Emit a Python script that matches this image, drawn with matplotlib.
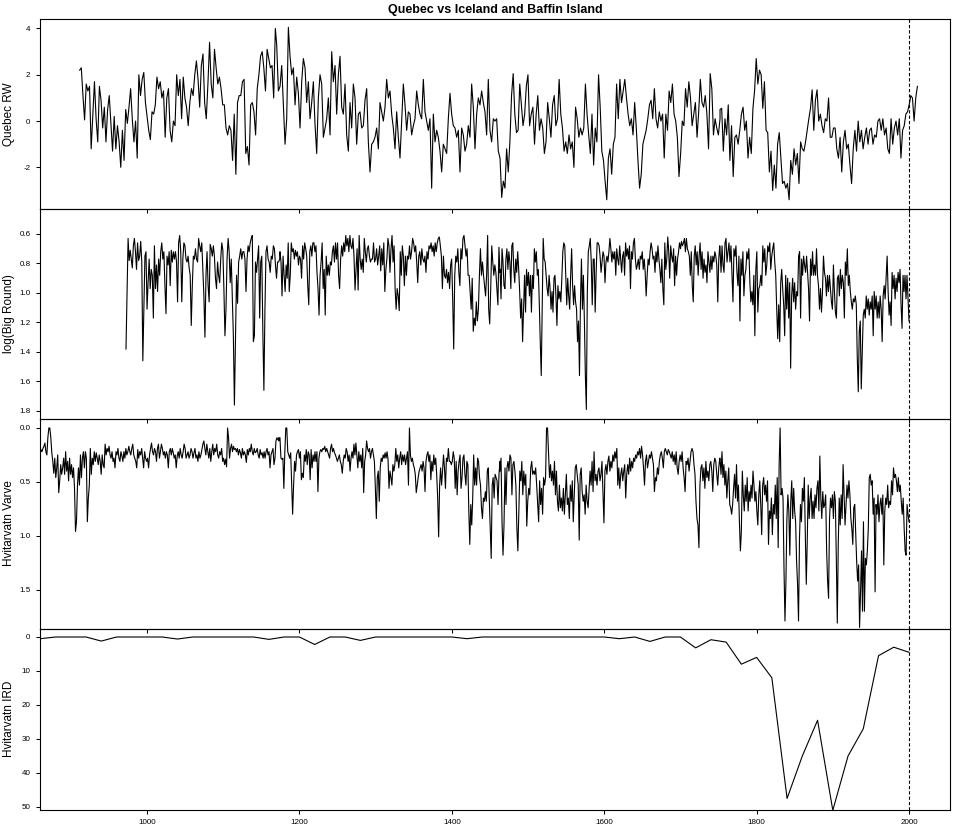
import numpy as np
import matplotlib
matplotlib.use("Agg")
import matplotlib.pyplot as plt

plt.rcParams['font.family'] = ['Liberation Sans', 'DejaVu Sans']

TITLE = "Quebec vs Iceland and Baffin Island"
YLABELS = ["Quebec RW", "log(Big Round)", "Hvitarvatn Varve", "Hvitarvatn IRD"]
XTICKS = [1000, 1200, 1400, 1600, 1800, 2000]

# ---------------- Quebec RW (segments: start year, end year, values) ----------------
quebec_911_1168 = [2.2, 2.3, 1.1, 0.05, 1.6, 1.3, 1.5, -1.2, 0.3, 1.7, 0.1, -0.9, 1.5, 0.9, -0.3, 0.6, -0.9, 0.5, 1.1, -0.1,
    -1.3, 0.2, -1.2, -0.2, -0.9, -2.0, -0.4, -1.7, 0.5, -0.1, 0.6, 1.4, 0.1, -0.9, 0.0, -1.6, 2.0, 1.1, 1.8, 2.1,
    0.8, 0.2, -0.4, -0.8, 0.4, 0.3, 0.7, 1.9, 1.4, 1.7, 1.0, 1.3, -0.7, 1.0, 1.4, -0.4, -0.9, 0.0, -0.2, 2.0,
    1.1, 1.8, 0.1, 1.9, 1.0, 0.6, -0.2, 0.8, 1.4, 1.1, 2.0, 2.6, 1.8, 0.6, 2.4, 2.9, 0.8, 0.1, 1.6, 3.4,
    1.6, 1.0, 3.1, 2.3, 1.6, 1.9, 1.4, 0.7, 0.7, -0.3, -0.6, -0.2, -0.4, -1.7, 0.3, -2.3, 0.8, 1.1, 1.1, 1.7,
    1.8, -1.4, -1.1, -1.9, 0.7, 0.8, 0.4, -0.6, 1.4, 2.0, 2.8, 3.0, 2.3, 1.3, 3.1, 2.7, 2.3, 2.4, 1.0, 4.0]
quebec_1170_1463 = [3.3, 1.3, 1.5, 2.4, 0.7, -1.0, 0.1, 4.05, 2.8, 2.0, 2.3, 0.7, 1.9, 1.2, -0.3, 1.7, 2.7, 2.3, 0.8, 1.7,
    0.1, 0.8, 1.7, -0.15, -1.4, 1.0, 2.0, 1.6, -0.7, -0.3, 0.1, 1.0, -0.6, 3.0, 1.7, 2.4, 0.3, 2.0, 2.8, 0.6,
    0.3, 1.6, -0.6, -1.3, 0.8, -0.3, 1.6, 1.0, -1.0, 0.3, 0.4, -0.3, -0.2, 0.9, 1.4, -0.9, -2.2, -1.0, -0.9, -0.7,
    -0.3, -1.2, 0.8, 0.4, 0.0, 0.6, 1.8, 1.0, 1.3, 0.3, -0.3, -1.2, 0.4, -0.7, -1.6, 0.0, 1.6, 0.7, -0.4, 0.4,
    0.3, -0.6, -0.2, 0.1, 1.3, 0.7, 0.3, 0.1, 1.8, 0.4, 0.0, -0.4, 0.1, -2.9, 0.3, -0.9, -0.4, -0.7, -1.3, -2.2,
    -1.0, -1.2, -1.4, 0.1, 1.2, 0.3, -0.2, -0.3, -0.7, -0.4, -2.2, -0.3, -0.6, -1.3, -1.0, -0.2, -0.7, 1.6, 0.6, -1.2,
    0.3, 1.0, 0.7, 1.3, 0.8, 0.4, -0.6, 1.8, -0.4, -0.9, 0.1, 0.0, 0.1, -1.3, -1.6]
quebec_1464_1752 = [-1.6, -3.3, -2.6, -2.9, -1.2, -2.2, -0.9, 1.1, 2.05, 0.3, -0.5, -0.4, 1.6, 0.7, -0.2, 0.3, 1.5, 2.0, -0.2, 0.3,
    0.6, -1.0, 0.3, 1.1, -0.4, 0.1, -0.3, -1.4, -0.9, 0.8, 0.1, -0.7, 0.7, 1.1, -0.2, 0.1, 1.8, 0.3, -0.3, -1.3,
    -0.9, -1.4, -0.6, -1.2, -0.9, -2.0, 0.6, 0.1, -0.7, -0.3, -0.6, -0.3, 1.6, 0.3, -0.6, -1.4, 0.3, -1.9, -0.3, -0.9,
    2.0, 0.6, -1.3, -1.7, -2.6, -3.4, -1.6, -1.2, -2.3, -1.0, -0.7, 1.6, 0.1, 1.8, 0.8, 1.3, 1.8, 1.0, 0.3, -0.2,
    0.1, -0.6, 0.8, -0.3, -1.7, -2.9, -2.3, -1.0, -0.7, -0.4, 0.1, 0.7, 0.9, 0.1, 1.4, 0.1, -0.3, 0.4, 0.0, 0.3,
    -1.6, 0.3, -0.4, 1.3, 0.8, 1.6, 0.3, 0.0, -0.7, -2.4, -1.4, 0.0, -0.2, 1.4, 0.6, 1.7, 1.0, -0.2, 0.3, 0.8,
    -0.7, 0.4, 1.8, 0.8, 0.6, 1.1, 0.3, -1.2, 2.05, 1.4, -0.6, 0.1, -0.3, -0.6, 0.1]
quebec_1753_2011 = [0.5, 0.55, -1.3, 0.1, -0.6, 0.7, -1.7, -0.2, -2.4, -0.7, -0.6, -1.0, -0.4, 0.3, 0.6, -0.4, 0.0, -1.6, -0.7, -1.4,
    0.55, 1.3, 2.7, 1.6, 2.2, 2.0, 0.55, 1.7, -0.4, -0.5, -2.2, -1.3, -3.0, -1.9, -2.9, -1.0, -0.5, -1.6, -2.7, -2.6,
    -2.9, -2.7, -3.4, -1.7, -2.3, -1.2, -1.9, -1.4, -2.7, -0.9, -1.2, -1.3, -0.9, -0.4, 0.1, 0.55, 1.35, -0.4, 0.9, 1.35,
    0.0, 0.3, -0.2, -0.5, 0.1, 0.0, 1.0, -0.7, -0.7, -0.3, -0.3, -1.2, -1.6, -0.7, -2.2, -0.9, -0.4, -1.2, -1.0, -1.9,
    -2.7, -1.2, -0.4, -1.3, 0.0, -0.9, -0.4, -1.2, -0.7, -0.3, -1.0, -0.4, -0.3, -1.0, -0.6, -0.7, 0.0, 0.1, -0.4, 0.1,
    -0.6, -0.3, -1.2, -1.4, 0.1, -1.0, -0.3, 0.0, -0.6, 0.1, -1.6, -0.4, -0.2, 0.3, 0.4, 0.7, 1.1, 1.0, 0.0, 1.0, 1.5]

# ---------------- log(Big Round) ----------------
biground_972_1174 = [1.38, 0.99, 0.63, 0.78, 0.71, 0.77, 0.83, 0.68, 0.63, 0.72, 0.84, 0.66, 0.78, 0.75, 0.65, 0.79, 1.46, 1.11, 0.75, 0.72,
    1.11, 0.93, 0.77, 0.97, 0.84, 0.88, 1.17, 0.68, 0.97, 0.81, 0.99, 0.77, 0.88, 0.72, 0.66, 0.77, 0.72, 0.95, 1.14, 0.75,
    0.81, 0.72, 0.95, 0.71, 0.79, 0.72, 0.77, 0.72, 0.79, 1.06, 0.66, 0.61, 0.72, 1.06, 0.77, 0.66, 0.68, 0.77, 0.79, 0.75,
    0.83, 0.88, 1.22, 0.95, 0.75, 0.77, 0.70, 0.77, 0.79, 0.63, 0.68, 0.72, 0.66, 0.84, 1.02, 1.30, 0.88, 0.72, 0.95, 1.06,
    0.67, 0.70, 0.75, 0.68, 0.75, 0.90, 0.97, 0.79, 0.88, 0.93, 0.77, 0.66, 0.71, 0.97, 1.29, 1.11, 0.77, 0.63, 0.72, 0.93,
    0.77, 1.02, 1.29, 1.76, 1.31, 0.88, 1.07, 0.79, 0.75, 0.70, 0.77, 0.72, 0.72, 0.77, 0.99, 0.77, 0.68, 0.72, 0.66, 0.63,
    0.61, 1.33, 1.29, 0.79, 0.86, 0.77, 0.68, 1.17, 0.79, 0.75, 1.26, 1.66, 1.11, 0.72, 0.68, 0.77, 0.79, 0.86, 0.75, 0.77,
    0.68, 0.70, 0.81, 0.90, 0.79, 0.79, 0.77]
biground_1175_1463 = [0.72, 0.79, 1.02, 0.75, 0.88, 0.99, 0.81, 0.90, 0.66, 0.99, 0.88, 0.66, 0.72, 0.70, 0.77, 0.71, 0.75, 0.72, 0.81, 0.75,
    0.77, 0.90, 0.68, 0.77, 0.66, 0.70, 0.75, 0.95, 1.08, 0.72, 0.68, 0.75, 0.66, 0.66, 0.72, 0.68, 0.86, 0.97, 1.15, 0.88,
    0.79, 0.66, 0.97, 0.84, 1.15, 0.75, 0.88, 0.81, 0.88, 0.79, 0.81, 0.72, 0.68, 0.79, 0.66, 0.77, 0.66, 0.88, 0.97, 0.77,
    0.68, 0.75, 0.66, 0.72, 0.61, 0.68, 0.63, 0.72, 0.61, 0.68, 0.70, 0.63, 0.75, 0.98, 0.84, 0.70, 0.98, 0.61, 0.77, 0.84,
    0.77, 0.86, 0.63, 0.72, 0.79, 0.70, 0.68, 0.75, 0.79, 0.77, 0.77, 0.66, 0.79, 0.77, 0.70, 0.81, 0.75, 0.68, 0.85, 0.70,
    0.81, 0.66, 0.99, 0.84, 0.77, 0.63, 0.68, 0.86, 0.70, 0.61, 0.79, 0.68, 0.97, 1.11, 0.97, 1.02, 1.12, 0.72, 0.88, 0.68,
    0.75, 0.95, 0.75, 0.88, 0.75, 0.77, 0.68, 0.77, 0.72, 0.63, 0.66, 0.72, 0.68, 0.79, 0.93, 0.75, 0.72, 0.81, 0.70, 0.77,
    0.79, 0.75, 0.86, 0.72, 0.77, 0.68, 0.70, 0.66, 0.72, 0.68, 0.75, 0.66, 0.72, 0.66, 0.63, 0.62, 0.68, 0.75, 0.97, 0.75,
    0.88, 0.90, 0.84, 0.93, 0.86, 0.97, 0.81, 0.77, 1.04, 1.38, 0.88, 0.75, 0.79, 0.70, 0.86, 0.95, 0.70, 0.77, 0.63, 0.61,
    0.68, 0.75, 0.70, 0.88, 0.88, 0.99, 1.11, 0.90, 1.26, 1.17, 1.22, 1.06, 1.19, 1.11, 0.88, 0.70, 0.88, 0.79, 0.88, 0.95,
    1.02, 0.88, 0.61, 1.11, 1.21, 0.97, 0.68, 0.79, 0.88, 0.81, 0.86, 0.97, 1.08, 0.69, 0.86]
biground_1464_1752 = [0.84, 1.04, 0.70, 0.79, 0.95, 0.97, 0.77, 0.70, 0.84, 0.72, 0.79, 0.97, 0.68, 0.66, 0.84, 0.93, 0.77, 0.86, 0.72, 0.84,
    0.99, 1.17, 1.04, 1.33, 1.11, 0.88, 1.13, 0.84, 0.95, 0.86, 1.02, 0.88, 1.13, 0.88, 0.97, 0.70, 0.79, 0.72, 0.88, 0.84,
    1.06, 1.33, 1.56, 1.11, 0.63, 0.77, 0.79, 0.88, 0.97, 1.02, 0.88, 0.97, 1.11, 0.99, 1.13, 0.90, 0.88, 1.02, 1.22, 0.95,
    1.04, 0.99, 1.06, 0.90, 0.72, 0.66, 0.68, 0.88, 1.08, 0.90, 1.02, 1.11, 0.88, 0.70, 0.95, 1.08, 0.95, 1.06, 1.11, 1.33,
    1.19, 1.56, 1.06, 0.77, 1.11, 0.88, 1.19, 1.56, 1.79, 0.99, 0.72, 0.68, 0.63, 0.79, 1.08, 0.77, 0.77, 1.13, 0.86, 0.66,
    0.66, 0.68, 0.75, 0.86, 0.79, 0.72, 0.75, 0.93, 0.79, 0.75, 0.79, 0.72, 0.63, 0.70, 0.79, 0.72, 0.77, 0.72, 0.88, 0.70,
    0.77, 0.81, 0.68, 0.77, 0.86, 0.75, 0.72, 0.88, 0.66, 0.75, 0.70, 0.77, 0.68, 0.97, 0.72, 0.77, 0.66, 0.63, 0.77, 0.84,
    0.81, 0.77, 0.84, 0.75, 0.77, 0.72, 0.84, 0.77, 0.86, 1.02, 0.88, 0.77, 0.81, 0.72, 0.66, 0.70, 0.77, 0.75, 0.86, 0.72,
    0.79, 0.68, 0.77, 0.84, 0.93, 0.77, 0.97, 1.08, 0.66, 0.84, 0.77, 0.62, 0.72, 0.90, 0.68, 0.75, 0.79, 0.70, 0.95, 0.75,
    0.88, 0.77, 0.72, 0.66, 0.70, 0.65, 0.68, 0.66, 0.63, 0.72, 0.63, 0.70, 0.72, 0.75, 0.88, 0.72, 0.95, 1.06, 0.75, 0.68,
    0.81, 0.72, 0.88, 0.75, 0.66, 0.84, 0.72, 0.90, 0.77, 0.86, 0.81, 0.93, 0.72, 0.79, 0.86, 0.75, 0.84, 0.75, 0.79, 0.72,
    0.75, 0.81, 1.06, 0.77, 0.68]
biground_1753_2000 = [0.70, 0.86, 0.68, 0.81, 0.86, 0.66, 0.63, 0.79, 0.72, 0.66, 0.79, 0.68, 0.88, 1.06, 0.70, 0.75, 0.68, 0.86, 0.95, 0.75,
    1.19, 0.77, 0.88, 0.72, 1.02, 0.88, 0.84, 0.72, 0.77, 0.70, 0.93, 1.06, 0.99, 1.08, 0.88, 1.29, 0.84, 0.72, 1.13, 0.97,
    0.95, 0.88, 0.95, 0.68, 0.79, 0.70, 0.88, 0.81, 0.68, 0.72, 0.66, 0.84, 0.75, 0.70, 0.66, 0.79, 0.88, 1.11, 1.31, 1.08,
    1.33, 0.93, 0.84, 0.97, 1.08, 1.29, 0.88, 1.11, 0.90, 1.17, 0.93, 1.51, 1.02, 0.90, 1.06, 0.93, 1.11, 0.99, 1.02, 0.75,
    0.72, 1.17, 0.77, 0.88, 0.75, 0.81, 0.86, 0.75, 0.86, 0.97, 1.19, 0.77, 0.88, 0.72, 0.88, 0.81, 0.88, 0.70, 0.88, 0.95,
    1.11, 0.97, 1.13, 0.99, 0.75, 0.86, 0.90, 1.02, 0.88, 0.99, 0.88, 0.97, 1.06, 1.11, 0.81, 0.99, 1.13, 1.17, 0.90, 0.88,
    1.02, 0.84, 0.97, 0.88, 0.93, 1.17, 0.79, 0.88, 0.70, 0.95, 0.88, 0.99, 1.06, 1.11, 1.04, 1.06, 1.02, 1.08, 1.44, 1.67,
    1.26, 1.19, 1.65, 1.40, 1.15, 1.11, 1.17, 1.02, 1.11, 1.04, 1.15, 1.06, 1.11, 1.02, 1.29, 0.99, 1.11, 1.02, 1.17, 1.06,
    1.17, 1.02, 1.11, 1.33, 1.02, 0.95, 1.04, 0.90, 0.75, 0.99, 1.15, 1.06, 1.22, 0.86, 0.97, 0.88, 1.04, 0.90, 0.99, 0.86,
    0.93, 0.84, 1.08, 1.24, 0.88, 0.99, 0.88, 1.04, 0.88, 1.04, 1.19]

# ---------------- Hvitarvatn varve thickness ----------------
varve_858_1173 = [0.20, 0.25, 0.20, 0.22, 0.19, 0.17, 0.14, 0.22, 0.25, 0.09, 0.0, 0.0, 0.09, 0.23, 0.31, 0.42, 0.28, 0.46, 0.37, 0.25,
    0.60, 0.49, 0.34, 0.43, 0.37, 0.28, 0.43, 0.22, 0.40, 0.31, 0.49, 0.28, 0.43, 0.34, 0.46, 0.37, 0.56, 0.96, 0.87, 0.53,
    0.37, 0.53, 0.25, 0.46, 0.28, 0.22, 0.37, 0.22, 0.28, 0.87, 0.65, 0.53, 0.19, 0.43, 0.28, 0.34, 0.22, 0.31, 0.23, 0.28,
    0.34, 0.25, 0.31, 0.43, 0.25, 0.34, 0.37, 0.15, 0.25, 0.19, 0.22, 0.17, 0.25, 0.28, 0.22, 0.31, 0.28, 0.37, 0.22, 0.25,
    0.19, 0.28, 0.31, 0.22, 0.26, 0.31, 0.22, 0.28, 0.19, 0.25, 0.22, 0.17, 0.22, 0.25, 0.19, 0.15, 0.25, 0.28, 0.31, 0.37,
    0.20, 0.28, 0.22, 0.25, 0.19, 0.28, 0.37, 0.22, 0.28, 0.31, 0.28, 0.37, 0.25, 0.19, 0.14, 0.22, 0.25, 0.19, 0.22, 0.31,
    0.19, 0.15, 0.28, 0.22, 0.15, 0.19, 0.25, 0.22, 0.28, 0.22, 0.25, 0.37, 0.22, 0.19, 0.25, 0.19, 0.23, 0.28, 0.25, 0.37,
    0.26, 0.22, 0.28, 0.19, 0.25, 0.28, 0.22, 0.15, 0.19, 0.28, 0.25, 0.22, 0.28, 0.25, 0.19, 0.22, 0.28, 0.23, 0.19, 0.28,
    0.25, 0.31, 0.22, 0.28, 0.25, 0.20, 0.15, 0.12, 0.19, 0.25, 0.15, 0.22, 0.28, 0.19, 0.31, 0.22, 0.15, 0.25, 0.19, 0.22,
    0.15, 0.25, 0.28, 0.22, 0.25, 0.19, 0.31, 0.28, 0.34, 0.29, 0.36, 0.0, 0.09, 0.28, 0.19, 0.15, 0.22, 0.17, 0.20, 0.19,
    0.22, 0.19, 0.25, 0.20, 0.23, 0.28, 0.19, 0.25, 0.22, 0.25, 0.32, 0.20, 0.25, 0.19, 0.22, 0.15, 0.22, 0.25, 0.19, 0.23,
    0.22, 0.19, 0.25, 0.28, 0.20, 0.25, 0.23, 0.28, 0.22, 0.28, 0.22, 0.19, 0.25, 0.22, 0.37, 0.25, 0.22, 0.19, 0.34, 0.28,
    0.12, 0.09, 0.11, 0.09]
varve_1174_1463 = [0.12, 0.09, 0.28, 0.29, 0.28, 0.56, 0.22, 0.0, 0.0, 0.22, 0.25, 0.28, 0.23, 0.53, 0.80, 0.53, 0.31, 0.40, 0.25, 0.22,
    0.20, 0.28, 0.22, 0.48, 0.42, 0.46, 0.25, 0.31, 0.20, 0.34, 0.22, 0.25, 0.48, 0.20, 0.37, 0.25, 0.31, 0.22, 0.31, 0.22,
    0.59, 0.28, 0.22, 0.20, 0.22, 0.19, 0.20, 0.17, 0.22, 0.19, 0.22, 0.25, 0.28, 0.19, 0.15, 0.22, 0.19, 0.23, 0.25, 0.28,
    0.31, 0.28, 0.25, 0.31, 0.34, 0.42, 0.31, 0.25, 0.28, 0.19, 0.22, 0.31, 0.25, 0.40, 0.28, 0.22, 0.28, 0.15, 0.25, 0.14,
    0.25, 0.37, 0.22, 0.31, 0.25, 0.37, 0.19, 0.60, 0.31, 0.25, 0.12, 0.19, 0.22, 0.19, 0.28, 0.22, 0.19, 0.25, 0.31, 0.56,
    0.84, 0.46, 0.40, 0.68, 0.37, 0.28, 0.31, 0.25, 0.28, 0.23, 0.28, 0.22, 0.29, 0.56, 0.40, 0.46, 0.53, 0.34, 0.40, 0.34,
    0.19, 0.31, 0.25, 0.37, 0.28, 0.22, 0.34, 0.25, 0.31, 0.25, 0.34, 0.28, 0.22, 0.53, 0.0, 0.25, 0.31, 0.28, 0.34, 0.37,
    0.43, 0.60, 0.53, 0.46, 0.40, 0.37, 0.34, 0.40, 0.31, 0.37, 0.59, 0.31, 0.25, 0.22, 0.31, 0.25, 0.48, 0.31, 0.40, 0.25,
    0.34, 0.28, 0.43, 0.65, 1.01, 0.53, 0.37, 0.53, 0.40, 0.25, 0.37, 0.56, 0.28, 0.31, 0.19, 0.31, 0.31, 0.34, 0.31, 0.22,
    0.28, 0.56, 0.31, 0.62, 0.40, 0.31, 0.25, 0.56, 0.46, 0.28, 0.25, 0.43, 0.53, 0.31, 0.34, 0.77, 1.08, 0.71, 0.90, 0.65,
    0.25, 0.53, 0.37, 0.53, 0.28, 0.31, 0.46, 0.53, 0.74, 0.84, 0.65, 0.68, 0.59, 0.68, 0.40, 0.37, 0.65, 0.96, 1.21, 0.53,
    0.46, 0.65, 0.43, 0.46, 0.49, 0.71, 0.43, 0.31]
varve_1464_1752 = [0.40, 0.28, 0.87, 1.18, 0.90, 0.37, 0.71, 0.37, 0.31, 0.40, 0.25, 0.28, 0.62, 0.34, 0.31, 0.40, 0.53, 0.93, 1.14, 0.77,
    0.40, 0.49, 0.31, 0.62, 0.40, 0.53, 0.43, 0.91, 0.68, 0.56, 0.62, 0.37, 0.31, 0.43, 0.40, 0.43, 0.37, 0.53, 0.71, 0.87,
    0.49, 0.71, 0.56, 0.80, 0.46, 0.53, 0.46, 0.0, 0.0, 0.22, 0.46, 0.34, 0.49, 0.40, 0.53, 0.31, 0.62, 0.40, 0.68, 0.77,
    0.53, 0.74, 0.65, 0.77, 0.56, 0.80, 0.62, 0.43, 0.71, 0.65, 0.84, 0.53, 0.68, 0.49, 0.87, 0.62, 0.37, 0.34, 0.43, 0.53,
    1.04, 0.43, 0.37, 0.59, 0.68, 0.62, 0.80, 0.53, 0.68, 0.74, 0.56, 0.40, 0.53, 0.31, 0.59, 0.22, 0.49, 0.43, 0.53, 0.40,
    0.37, 0.49, 0.43, 0.31, 0.59, 0.88, 0.40, 0.34, 0.43, 0.31, 0.26, 0.40, 0.31, 0.37, 0.25, 0.31, 0.22, 0.28, 0.19, 0.53,
    0.37, 0.56, 0.43, 0.37, 0.49, 0.40, 0.34, 0.65, 0.43, 0.34, 0.43, 0.28, 0.40, 0.31, 0.37, 0.28, 0.31, 0.25, 0.28, 0.22,
    0.25, 0.19, 0.28, 0.17, 0.25, 0.37, 0.53, 0.31, 0.25, 0.37, 0.31, 0.25, 0.28, 0.22, 0.28, 0.34, 0.59, 0.46, 0.49, 0.37,
    0.43, 0.31, 0.25, 0.22, 0.28, 0.37, 0.22, 0.19, 0.22, 0.25, 0.20, 0.22, 0.25, 0.28, 0.22, 0.31, 0.25, 0.34, 0.22, 0.37,
    0.43, 0.31, 0.25, 0.31, 0.22, 0.37, 0.46, 0.59, 0.31, 0.34, 0.28, 0.40, 0.31, 0.22, 0.19, 0.22, 0.34, 0.43, 0.68, 0.84,
    0.90, 1.11, 0.53, 0.37, 0.34, 0.49, 0.37, 0.56, 0.31, 0.46, 0.40, 0.49, 0.34, 0.31, 0.40, 0.59, 0.34, 0.28, 0.31, 0.43,
    0.53, 0.37, 0.28]
varve_1753_2000 = [0.28, 0.43, 0.22, 0.46, 0.34, 0.53, 0.40, 0.65, 0.49, 0.37, 0.71, 0.74, 0.80, 0.71, 0.56, 0.43, 0.65, 0.34, 0.68, 0.53,
    0.87, 1.14, 0.96, 0.40, 0.62, 0.77, 0.53, 0.68, 0.46, 0.77, 0.59, 0.68, 0.53, 0.65, 0.40, 0.53, 0.68, 0.59, 0.77, 0.90,
    0.62, 0.49, 0.71, 0.99, 0.53, 0.46, 0.62, 0.53, 0.68, 0.49, 1.08, 0.77, 0.84, 0.65, 0.99, 0.71, 0.80, 0.53, 0.84, 0.46,
    1.11, 0.34, 0.0, 0.62, 0.56, 0.65, 1.30, 1.79, 1.42, 0.84, 0.62, 0.77, 1.18, 0.68, 0.49, 0.84, 0.56, 0.77, 0.87, 1.24,
    1.45, 1.79, 1.02, 0.71, 0.87, 0.56, 0.68, 0.46, 0.99, 1.45, 1.05, 0.53, 0.84, 0.65, 0.56, 0.84, 0.68, 0.84, 0.62, 0.74,
    0.56, 0.49, 0.77, 0.26, 0.65, 0.84, 0.59, 0.74, 0.71, 0.62, 1.14, 1.42, 1.58, 0.84, 0.65, 0.74, 0.62, 0.84, 0.59, 0.68,
    1.21, 1.81, 1.08, 0.65, 0.90, 0.62, 0.84, 0.34, 0.62, 0.90, 0.71, 0.53, 0.65, 0.49, 0.62, 0.84, 0.93, 1.08, 0.74, 0.71,
    0.99, 1.24, 1.42, 1.27, 1.85, 1.52, 1.14, 1.70, 0.87, 1.70, 1.21, 1.27, 1.14, 0.93, 0.46, 0.43, 0.53, 0.49, 0.80, 0.65,
    1.52, 0.71, 0.80, 0.62, 0.87, 0.71, 0.65, 0.80, 0.62, 1.27, 0.77, 0.65, 0.71, 0.53, 0.74, 0.68, 0.71, 0.49, 0.62, 0.37,
    0.46, 0.43, 0.49, 0.59, 0.46, 0.59, 0.53, 0.68, 0.80, 0.65, 0.93, 1.14, 1.18, 0.71, 0.80, 0.87]

# ---------------- Hvitarvatn IRD (20-year samples, 860-2000) ----------------
ird_start, ird_step = 860, 20
ird_values = [0.5, 0, 0, 0, 1.2, 0, 0, 0, 0, 0.6, 0, 0, 0, 0, 0, 0.7, 0, 0, 2.2, 0,
              0, 1.0, 0, 0, 0, 0, 0, 0, 0.5, 0, 0, 0, 0, 0, 0, 0, 0, 0, 0.5, 0,
              1.3, 0, 0, 3.2, 0.8, 1.5, 8.0, 6.0, 12.0, 47.5, 35.0, 24.5, 51.0, 35.0, 27.0, 5.5, 3.0, 4.5]

quebec_segments = [(911.6, 1168.4, quebec_911_1168), (1170.2, 1463.2, quebec_1170_1463),
                   (1463.3, 1752.0, quebec_1464_1752), (1752.0, 2011.0, quebec_1753_2011)]
biground_segments = [(972.4, 1174.1, biground_972_1174), (1174.5, 1463.2, biground_1175_1463),
                     (1463.3, 1751.6, biground_1464_1752), (1752.0, 2000.0, biground_1753_2000)]
varve_segments = [(858.2, 1173.1, varve_858_1173), (1173.2, 1463.2, varve_1174_1463),
                  (1463.3, 1751.6, varve_1464_1752), (1752.0, 2000.0, varve_1753_2000)]


def build(segs):
    xs = np.concatenate([np.linspace(a, b, len(v)) for a, b, v in segs])
    ys = np.concatenate([np.asarray(v, dtype=float) for a, b, v in segs])
    return xs, ys


qx, qy = build(quebec_segments)
bx, by = build(biground_segments)
vx, vy = build(varve_segments)
ix = ird_start + ird_step * np.arange(len(ird_values))
iy = np.asarray(ird_values, dtype=float)

fig = plt.figure(figsize=(9.6, 8.4), dpi=100)
fig.patch.set_facecolor("white")

left, width = 39.5 / 960, (950 - 39.5) / 960
rows = [(19, 209), (209, 418.5), (418.5, 628.5), (628.5, 810)]
ylims = [(-3.80, 4.41), (1.851, 0.4305), (1.86, -0.088), (50.9, -2.5)]
yticks = [[-2, 0, 2, 4], [0.6, 0.8, 1.0, 1.2, 1.4, 1.6, 1.8], [0.0, 0.5, 1.0, 1.5], [0, 10, 20, 30, 40, 50]]
yticklabels = [["-2", "0", "2", "4"], ["0.6", "0.8", "1.0", "1.2", "1.4", "1.6", "1.8"],
               ["0.0", "0.5", "1.0", "1.5"], ["0", "10", "20", "30", "40", "50"]]
data = [(qx, qy), (bx, by), (vx, vy), (ix, iy)]

for i, ((top, bot), yl, yt, ytl, (x, y)) in enumerate(zip(rows, ylims, yticks, yticklabels, data)):
    ax = fig.add_axes([left, 1 - bot / 840, width, (bot - top) / 840])
    ax.set_facecolor("none")
    ax.plot(x, y, color="black", lw=0.8)
    ax.axvline(2000, color="black", lw=0.8, linestyle=(0, (2.9, 1.9)))
    ax.set_xlim(858.9, 2053.8)
    ax.set_ylim(*yl)
    ax.set_xticks(XTICKS)
    ax.set_yticks(yt)
    ax.set_yticklabels(ytl)
    ax.tick_params(direction="out", length=3, width=0.75, pad=3.5, labelsize=5.8, colors="black")
    if i < 3:
        ax.set_xticklabels([])
    for s in ax.spines.values():
        s.set_linewidth(0.8)
    ax.set_ylabel(YLABELS[i], fontsize=8.5)
    ax.yaxis.set_label_coords(-0.027, 0.5)

fig.text(495 / 960, 1 - 10 / 840, TITLE, ha="center", va="center", fontsize=9, fontweight="bold")

fig.savefig("out.png", dpi=100)
